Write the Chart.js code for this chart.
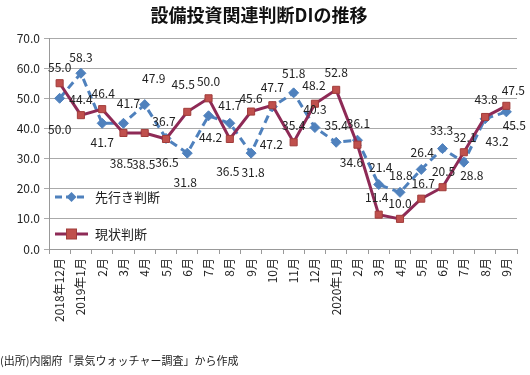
<!DOCTYPE html>
<html>
<head>
<meta charset="utf-8">
<script src="https://cdn.jsdelivr.net/npm/chart.js@4.4.0/dist/chart.umd.min.js"></script>
<style>
html,body{margin:0;padding:0;background:#fff;}
#wrap{width:530px;height:375px;position:relative;}
</style>
</head>
<body>
<div id="wrap"><canvas id="c" width="530" height="375"></canvas></div>
<script>
const categories = ['2018年12月','2019年1月','2月','3月','4月','5月','6月','7月','8月','9月','10月','11月','12月','2020年1月','2月','3月','4月','5月','6月','7月','8月','9月'];
const outlook = [50.0,58.3,41.7,41.7,47.9,36.7,31.8,44.2,41.7,31.8,47.2,51.8,40.3,35.4,36.1,21.4,18.8,26.4,33.3,28.8,43.2,45.5];
const current = [55.0,44.4,46.4,38.5,38.5,36.5,45.5,50.0,36.5,45.6,47.7,35.4,48.2,52.8,34.6,11.4,10.0,16.7,20.5,32.1,43.8,47.5];
const seriesNames = ['先行き判断','現状判断'];
const titleText = '設備投資関連判断DIの推移';
const sourceText = '(出所)内閣府「景気ウォッチャー調査」から作成';

// label placement (style only): [dx, dy] relative to each point
const outlookLabelOffset = [[0,31],[0,-16],[0,19],[5,-20],[9,-26],[-2,-17],[-2,29],[2,22],[0,-18],[2,19],[-1,38],[0,-19],[0,-18],[0,-17],[1,-17],[2,-17],[1,-17],[1,-17],[-1,-18],[8,13],[12,23],[8,14]];
const currentLabelOffset = [[0,-16],[0,-16],[1,-16],[-2,30],[-1,31],[1,23],[-4,-27],[0,-17],[-2,32],[0,-13],[0,-18],[0,-17],[-1,-18],[0,-17],[-6,18],[-2,-17],[0,-15],[2,-15],[1,-16],[1,-15],[1,-18],[7,-15]];

const BLUE = 'rgb(79,129,189)';
const MAROON = 'rgb(142,42,86)';
const RED = 'rgb(192,80,77)';
const FONT = '"Noto Sans CJK JP","Noto Sans",sans-serif';

const extras = {
  id: 'extras',
  afterDatasetsDraw(chart) {
    const ctx = chart.ctx;
    ctx.save();
    // data labels
    ctx.font = '12px ' + FONT;
    ctx.fillStyle = '#222';
    ctx.textAlign = 'center';
    ctx.textBaseline = 'middle';
    const offs = [outlookLabelOffset, currentLabelOffset];
    chart.data.datasets.forEach((ds, di) => {
      const meta = chart.getDatasetMeta(di);
      meta.data.forEach((pt, i) => {
        const o = offs[di][i];
        ctx.fillText(ds.data[i].toFixed(1), pt.x + o[0], pt.y + o[1]);
      });
    });
    // legend inside plot
    const lx0 = 55, lx1 = 88, ly = [197, 234];
    ctx.strokeStyle = BLUE; ctx.lineWidth = 3; ctx.setLineDash([7,4]);
    ctx.beginPath(); ctx.moveTo(lx0, ly[0]); ctx.lineTo(lx1, ly[0]); ctx.stroke();
    ctx.setLineDash([]);
    ctx.fillStyle = BLUE;
    ctx.beginPath();
    const cx = (lx0+lx1)/2;
    ctx.moveTo(cx, ly[0]-5); ctx.lineTo(cx+5, ly[0]); ctx.lineTo(cx, ly[0]+5); ctx.lineTo(cx-5, ly[0]); ctx.closePath(); ctx.fill();
    ctx.strokeStyle = MAROON; ctx.lineWidth = 3;
    ctx.beginPath(); ctx.moveTo(lx0, ly[1]); ctx.lineTo(lx1, ly[1]); ctx.stroke();
    ctx.fillStyle = RED; ctx.strokeStyle = 'rgb(160,60,58)'; ctx.lineWidth = 1;
    ctx.fillRect(cx-5, ly[1]-5, 10, 10); ctx.strokeRect(cx-5, ly[1]-5, 10, 10);
    ctx.fillStyle = '#222';
    ctx.font = '13px ' + FONT;
    ctx.textAlign = 'left';
    ctx.fillText(seriesNames[0], 95, ly[0]);
    ctx.fillText(seriesNames[1], 95, ly[1]);
    // title
    ctx.font = 'bold 18px ' + FONT;
    ctx.textAlign = 'center';
    ctx.fillStyle = '#111';
    ctx.fillText(titleText, 259, 15);
    // source
    ctx.font = '11px ' + FONT;
    ctx.textAlign = 'left';
    ctx.fillStyle = '#222';
    ctx.fillText(sourceText, 0, 361);
    ctx.restore();
  }
};

new Chart(document.getElementById('c'), {
  type: 'line',
  data: {
    labels: categories,
    datasets: [
      {
        label: seriesNames[0], data: outlook, order: 1,
        borderColor: BLUE, backgroundColor: BLUE, borderWidth: 3, borderDash: [8,5],
        pointStyle: 'rectRot', pointRadius: 5, pointBackgroundColor: BLUE, pointBorderColor: BLUE, pointBorderWidth: 1,
        tension: 0, fill: false
      },
      {
        label: seriesNames[1], data: current, order: 0,
        borderColor: MAROON, backgroundColor: RED, borderWidth: 3,
        pointStyle: 'rect', pointRadius: 5, pointBackgroundColor: RED, pointBorderColor: 'rgb(160,60,58)', pointBorderWidth: 1,
        tension: 0, fill: false
      }
    ]
  },
  options: {
    responsive: false,
    animation: false,
    devicePixelRatio: 1,
    layout: { padding: { top: 38, left: 0, right: 13, bottom: 0 } },
    plugins: { legend: { display: false }, tooltip: { enabled: false }, title: { display: false } },
    scales: {
      x: {
        offset: true,
        grid: { offset: true, drawOnChartArea: false, drawTicks: true, tickLength: 5, color: '#999' },
        border: { color: '#999' },
        ticks: { minRotation: 90, maxRotation: 90, autoSkip: false, padding: 4, color: '#222', font: { size: 12, family: FONT } },
        afterFit(s) { s.height = 126; }
      },
      y: {
        min: 0, max: 70,
        ticks: { stepSize: 10, callback: v => Number(v).toFixed(1), color: '#222', padding: 4, font: { size: 12, family: FONT } },
        grid: { color: '#aaa', tickLength: 5, lineWidth: 1 },
        border: { color: '#999' },
        afterFit(s) { s.width = 49; }
      }
    }
  },
  plugins: [extras]
});
</script>
</body>
</html>
